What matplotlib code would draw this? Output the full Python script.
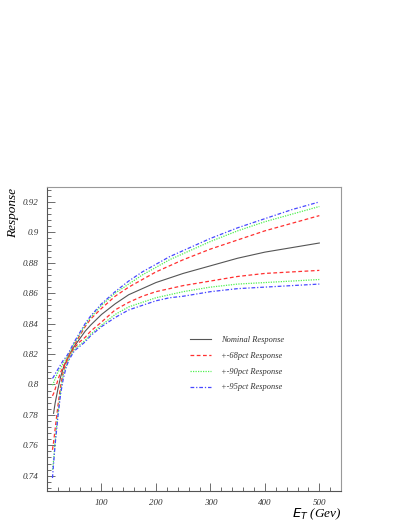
import numpy as np
import matplotlib
matplotlib.use("Agg")
import matplotlib.pyplot as plt
from matplotlib.ticker import MultipleLocator

et = [10, 12, 15, 20, 25, 30, 35, 40, 50, 60, 70, 80, 100, 125, 150, 175, 200,
      225, 250, 300, 350, 400, 450, 500]

nominal = [0.779, 0.781, 0.788, 0.797, 0.805, 0.811, 0.815, 0.819, 0.825, 0.830,
           0.835, 0.839, 0.846, 0.853, 0.859, 0.863, 0.867, 0.870, 0.873, 0.878,
           0.883, 0.887, 0.890, 0.893]

up68 = [0.7925, 0.794, 0.797, 0.803, 0.808, 0.812, 0.815, 0.819, 0.826, 0.832,
        0.838, 0.843, 0.850, 0.858, 0.864, 0.869, 0.874, 0.878, 0.882, 0.889,
        0.895, 0.901, 0.906, 0.911]
lo68 = [0.757, 0.762, 0.771, 0.786, 0.799, 0.809, 0.814, 0.818, 0.824, 0.828,
        0.831, 0.835, 0.841, 0.849, 0.854, 0.858, 0.861, 0.863, 0.865, 0.868,
        0.871, 0.873, 0.874, 0.875]

up90 = [0.7995, 0.801, 0.804, 0.808, 0.811, 0.814, 0.817, 0.820, 0.827, 0.833,
        0.839, 0.844, 0.852, 0.860, 0.866, 0.872, 0.877, 0.882, 0.886, 0.894,
        0.901, 0.907, 0.912, 0.917]
lo90 = [0.744, 0.750, 0.763, 0.781, 0.796, 0.807, 0.812, 0.817, 0.823, 0.826,
        0.829, 0.833, 0.839, 0.846, 0.851, 0.854, 0.857, 0.859, 0.861, 0.864,
        0.866, 0.867, 0.868, 0.869]

up95 = [0.804, 0.805, 0.807, 0.810, 0.813, 0.816, 0.818, 0.821, 0.828, 0.834,
        0.840, 0.845, 0.853, 0.861, 0.868, 0.874, 0.879, 0.884, 0.888, 0.896,
        0.903, 0.909, 0.915, 0.920]
lo95 = [0.7385, 0.748, 0.761, 0.779, 0.794, 0.804, 0.811, 0.816, 0.822, 0.825,
        0.828, 0.832, 0.838, 0.844, 0.849, 0.852, 0.855, 0.857, 0.858, 0.861,
        0.863, 0.864, 0.865, 0.866]

labels = ["Nominal Response", "+-68pct Response", "+-90pct Response", "+-95pct Response"]

serif = "Liberation Serif"

fig = plt.figure(figsize=(4.09, 5.29), dpi=100)
ax = fig.add_axes([0.115, 0.072, 0.719, 0.575])

# nominal starts a bit later than the bands
l0, = ax.plot(et[1:], nominal[1:], color="#555555", lw=0.8, ls="-")
l1, = ax.plot(et, up68, color="#ff3030", lw=0.9, ls=(0, (3, 2)))
ax.plot(et, lo68, color="#ff3030", lw=0.9, ls=(0, (3, 2)))
l2, = ax.plot(et, up90, color="#50f050", lw=0.9, ls=(0, (1, 1)))
ax.plot(et, lo90, color="#50f050", lw=0.9, ls=(0, (1, 1)))
l3, = ax.plot(et, up95, color="#4848ff", lw=0.9, ls=(0, (3, 1.5, 1, 1.5)))
ax.plot(et, lo95, color="#4848ff", lw=0.9, ls=(0, (3, 1.5, 1, 1.5)))

ax.set_xlim(0, 540)
ax.set_ylim(0.73, 0.93)

ax.xaxis.set_minor_locator(MultipleLocator(20))
ax.yaxis.set_minor_locator(MultipleLocator(0.004))
ax.set_xticks([100, 200, 300, 400, 500])
ax.set_xticklabels(["100", "200", "300", "400", "500"])
ax.set_yticks([0.74, 0.76, 0.78, 0.8, 0.82, 0.84, 0.86, 0.88, 0.9, 0.92])
ax.set_yticklabels(["0.74", "0.76", "0.78", "0.8", "0.82", "0.84", "0.86", "0.88", "0.9", "0.92"])

ax.tick_params(which="both", direction="in", color="#555555", width=0.6)
ax.tick_params(which="major", length=6, labelsize=6.5, pad=6)
ax.tick_params(which="minor", length=3)
for lab in ax.get_xticklabels() + ax.get_yticklabels():
    lab.set_fontfamily(serif)
    lab.set_fontstyle("italic")
    lab.set_color("#333333")

for s in ax.spines.values():
    s.set_color("#999999")
    s.set_linewidth(0.8)
ax.spines["left"].set_color("#555555")
ax.spines["bottom"].set_color("#555555")

ax.text(-0.115, 0.995, "Response", transform=ax.transAxes, rotation=90,
        ha="center", va="top", fontsize=9.5, fontfamily=serif, fontstyle="italic")
ax.text(1.0, -0.052, "$\\mathit{E_T}$ (Gev)", transform=ax.transAxes,
        ha="right", va="top", fontsize=9.5, fontfamily=serif, fontstyle="italic")

leg = ax.legend([l0, l1, l2, l3], labels, frameon=False, loc="upper left",
                bbox_to_anchor=(0.46, 0.535), handlelength=2.5, handletextpad=1.2,
                labelspacing=0.95,
                prop={"family": serif, "style": "italic", "size": 6})
for t in leg.get_texts():
    t.set_color("#333333")

fig.savefig("out.png", dpi=100)
